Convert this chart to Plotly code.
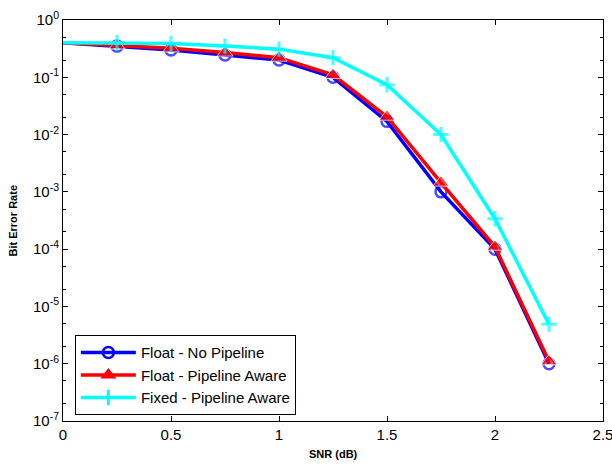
import plotly.graph_objects as go

snr = [0, 0.25, 0.5, 0.75, 1.0, 1.25, 1.5, 1.75, 2.0, 2.25]
float_no_pipe = [0.4, 0.35, 0.30, 0.245, 0.20, 0.10, 0.017, 0.001, 1.0e-4, 1.0e-6]
float_pipe = [0.4, 0.36, 0.32, 0.27, 0.22, 0.11, 0.0205, 0.00145, 1.1e-4, 1.1e-6]
fixed_pipe = [0.4, 0.4, 0.39, 0.35, 0.31, 0.22, 0.074, 0.01, 3.4e-4, 4.9e-6]

names = ["Float - No Pipeline", "Float - Pipeline Aware", "Fixed - Pipeline Aware"]
ytickvals = [1e0, 1e-1, 1e-2, 1e-3, 1e-4, 1e-5, 1e-6, 1e-7]
yticktext = ["10<sup>0</sup>", "10<sup>-1</sup>", "10<sup>-2</sup>", "10<sup>-3</sup>",
             "10<sup>-4</sup>", "10<sup>-5</sup>", "10<sup>-6</sup>", "10<sup>-7</sup>"]
xtickvals = [0, 0.5, 1, 1.5, 2, 2.5]
xticktext = ["0", "0.5", "1", "1.5", "2", "2.5"]
xtitle = "SNR (dB)"
ytitle = "Bit Error Rate"

FONT = "Liberation Sans, Arial"

series = [float_no_pipe, float_pipe, fixed_pipe]
styles = [
    (dict(color="#0000ff", width=3.5),
     dict(symbol="circle-open", size=11, color="#0000ff", line=dict(width=2.5, color="#0000ff"))),
    (dict(color="#ff0000", width=3.5),
     dict(symbol="triangle-up", size=14, color="#ff0000")),
    (dict(color="#00ffff", width=3.5),
     dict(symbol="cross-thin-open", size=11, color="#00ffff", line=dict(width=3, color="#00ffff"))),
]

fig = go.Figure()
for name, ys, (ln, mk) in zip(names, series, styles):
    # marker at the axis edge (x=0) is not drawn in the reference
    sz = [0 if x == 0 else mk["size"] for x in snr]
    mk_data = dict(mk, size=sz)
    fig.add_trace(go.Scatter(x=snr, y=ys, name=name, mode="lines+markers",
                             line=ln, marker=mk_data, showlegend=False, legendgroup=name))
    # legend entry with the same style
    fig.add_trace(go.Scatter(x=[None], y=[None], name=name, mode="lines+markers",
                             line=ln, marker=mk, showlegend=True, legendgroup=name))

axis_common = dict(showline=True, linecolor="black", linewidth=1, mirror="allticks",
                   ticks="inside", tickcolor="black", ticklen=5, showgrid=False, zeroline=False,
                   automargin=False, ticklabeloverflow="allow",
                   tickfont=dict(family=FONT, size=15, color="black"))

fig.update_xaxes(range=[0, 2.5], tickvals=xtickvals, ticktext=xticktext, **axis_common)
fig.update_yaxes(type="log", range=[-7, 0], tickvals=ytickvals, ticktext=yticktext,
                 minor=dict(ticks="inside", ticklen=3, tickcolor="black", showgrid=False),
                 **axis_common)

fig.add_annotation(text="<b>" + xtitle + "</b>", xref="paper", yref="paper", x=0.5, y=0,
                   yshift=-33, yanchor="middle", showarrow=False,
                   font=dict(family=FONT, size=11, color="black"))
fig.add_annotation(text="<b>" + ytitle + "</b>", xref="paper", yref="paper", x=0, y=0.5,
                   xshift=-51, xanchor="center", showarrow=False, textangle=-90,
                   font=dict(family=FONT, size=11, color="black"))

fig.update_layout(
    width=612, height=465,
    margin=dict(l=63, r=9, t=20, b=44, autoexpand=False),
    plot_bgcolor="white", paper_bgcolor="white",
    legend=dict(x=0.022, y=0.214, xanchor="left", yanchor="top",
                bgcolor="white", bordercolor="black", borderwidth=1,
                font=dict(family=FONT, size=15, color="black"),
                itemwidth=55, tracegroupgap=0),
)

fig.write_html("out.html", config={"displayModeBar": False},
               post_script="document.body.style.margin='0px';")
